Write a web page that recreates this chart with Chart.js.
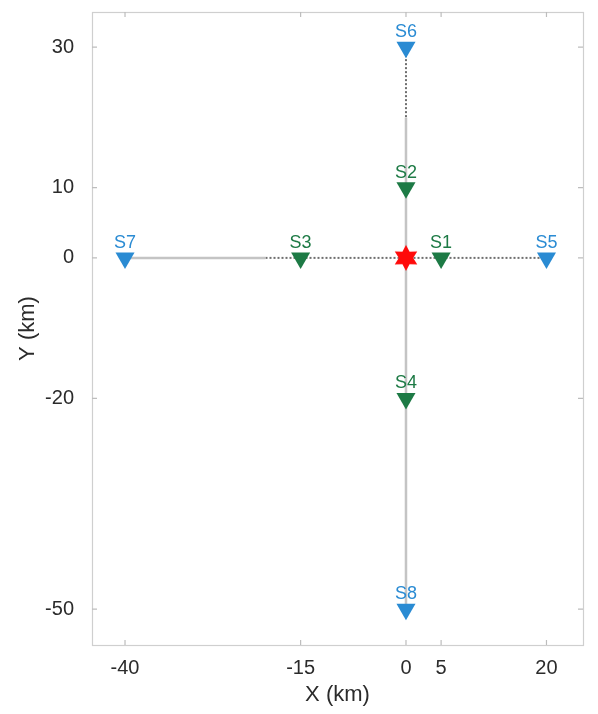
<!DOCTYPE html>
<html>
<head>
<meta charset="utf-8">
<script src="https://cdn.jsdelivr.net/npm/chart.js@4/dist/chart.umd.min.js"></script>
<style>
  html, body { margin: 0; padding: 0; background: #ffffff; }
  #wrap { width: 598px; height: 714px; }
</style>
</head>
<body>
<div id="wrap"><canvas id="c" width="598" height="714"></canvas></div>
<script>
// Station layout (km)
const innerNames = ['S1', 'S2', 'S3', 'S4'];
const innerX = [5, 0, -15, 0];
const innerY = [0, 10, 0, -20];
const outerNames = ['S5', 'S6', 'S7', 'S8'];
const outerX = [20, 0, -40, 0];
const outerY = [0, 30, 0, -50];
const sourceX = [0];
const sourceY = [0];

// Survey lines
const hSolidX = [-40, -20];
const hDottedX = [-20, 20];
const vDottedY = [30, 20];
const vSolidY = [20, -50];

// Axis ticks
const xTicks = [-40, -15, 0, 5, 20];
const yTicks = [30, 10, 0, -20, -50];

const GREEN = '#1d7a45';
const BLUE = '#2a8bd3';
const FONT = '"Liberation Sans", Arial, Helvetica, sans-serif';

const pts = (xs, ys) => xs.map((x, i) => ({ x: x, y: ys[i] }));

// six-pointed star marker
function makeStar(r) {
  const c = document.createElement('canvas');
  const s = Math.ceil(r * 2 + 2);
  c.width = s; c.height = s;
  const g = c.getContext('2d');
  const cx = s / 2, cy = s / 2;
  g.beginPath();
  for (let k = 0; k < 12; k++) {
    const a = -Math.PI / 2 + k * Math.PI / 6;
    const rr = (k % 2 === 0) ? r : r * 0.55;
    const px = cx + rr * Math.cos(a), py = cy + rr * Math.sin(a);
    if (k === 0) g.moveTo(px, py); else g.lineTo(px, py);
  }
  g.closePath();
  g.fillStyle = '#ff0a0a';
  g.fill();
  return c;
}
const starImg = makeStar(13);

// station name labels above markers
const stationLabels = {
  id: 'stationLabels',
  afterDatasetsDraw(chart) {
    const ctx = chart.ctx;
    ctx.save();
    ctx.font = '18px ' + FONT;
    ctx.textAlign = 'center';
    ctx.textBaseline = 'middle';
    chart.data.datasets.forEach((ds, di) => {
      if (!ds.names) return;
      const meta = chart.getDatasetMeta(di);
      meta.data.forEach((el, i) => {
        ctx.fillStyle = ds.labelColor;
        ctx.fillText(ds.names[i], el.x, el.y - 15);
      });
    });
    ctx.restore();
  }
};

// axes box with inward tick marks
const frame = {
  id: 'frame',
  beforeDatasetsDraw(chart) {
    const { ctx, chartArea: a, scales } = chart;
    ctx.save();
    ctx.strokeStyle = '#cfcfcf';
    ctx.lineWidth = 1.2;
    ctx.strokeRect(a.left + 0.5, a.top + 0.5, a.right - a.left, a.bottom - a.top);
    ctx.strokeStyle = '#bdbdbd';
    ctx.beginPath();
    xTicks.forEach(v => {
      const px = scales.x.getPixelForValue(v);
      ctx.moveTo(px, a.bottom); ctx.lineTo(px, a.bottom - 5);
      ctx.moveTo(px, a.top); ctx.lineTo(px, a.top + 5);
    });
    yTicks.forEach(v => {
      const py = scales.y.getPixelForValue(v);
      ctx.moveTo(a.left, py); ctx.lineTo(a.left + 5, py);
      ctx.moveTo(a.right, py); ctx.lineTo(a.right - 5, py);
    });
    ctx.stroke();
    ctx.restore();
  }
};

const solidLine = { showLine: true, borderColor: '#c4c4c4', borderWidth: 2.5, pointRadius: 0, order: 5 };
const dottedLine = { showLine: true, borderColor: '#6f6f6f', borderWidth: 2, borderDash: [2, 2], pointRadius: 0, order: 5 };

new Chart(document.getElementById('c'), {
  type: 'scatter',
  data: {
    datasets: [
      Object.assign({ data: pts(hSolidX, [0, 0]) }, solidLine),
      Object.assign({ data: pts(vSolidY.map(() => 0), vSolidY) }, solidLine),
      Object.assign({ data: pts(hDottedX, [0, 0]) }, dottedLine),
      Object.assign({ data: pts(vDottedY.map(() => 0), vDottedY) }, dottedLine),
      {
        data: pts(outerX, outerY), names: outerNames, labelColor: BLUE,
        pointStyle: 'triangle', rotation: 180, pointRadius: 11,
        backgroundColor: BLUE, borderColor: BLUE, borderWidth: 0, order: 2
      },
      {
        data: pts(innerX, innerY), names: innerNames, labelColor: GREEN,
        pointStyle: 'triangle', rotation: 180, pointRadius: 11,
        backgroundColor: GREEN, borderColor: GREEN, borderWidth: 0, order: 2
      },
      {
        data: pts(sourceX, sourceY), pointStyle: starImg, order: 1
      }
    ]
  },
  options: {
    responsive: false,
    animation: false,
    events: [],
    layout: { padding: { left: 0, right: 15, top: 12, bottom: 0 } },
    plugins: { legend: { display: false }, tooltip: { enabled: false } },
    scales: {
      x: {
        type: 'linear', min: -44.7, max: 25.2,
        afterBuildTicks: s => { s.ticks = xTicks.map(v => ({ value: v })); },
        afterFit: s => { s.height = 69; s.paddingLeft = 0; s.paddingRight = 0; },
        grid: { display: false },
        border: { display: false },
        ticks: { color: '#2b2b2b', font: { family: FONT, size: 20 }, padding: 3, maxRotation: 0, autoSkip: false },
        title: { display: true, text: 'X (km)', color: '#2b2b2b', font: { family: FONT, size: 22 }, padding: { top: 0, bottom: 6 } }
      },
      y: {
        type: 'linear', min: -55.1, max: 35,
        afterBuildTicks: s => { s.ticks = yTicks.map(v => ({ value: v })); },
        afterFit: s => { s.width = 92; s.paddingTop = 0; s.paddingBottom = 0; },
        grid: { display: false },
        border: { display: false },
        ticks: { color: '#2b2b2b', font: { family: FONT, size: 20 }, padding: 10, autoSkip: false },
        title: { display: true, text: 'Y (km)', color: '#2b2b2b', font: { family: FONT, size: 22 }, padding: { top: 15, bottom: 0 } }
      }
    }
  },
  plugins: [frame, stationLabels]
});
</script>
</body>
</html>
